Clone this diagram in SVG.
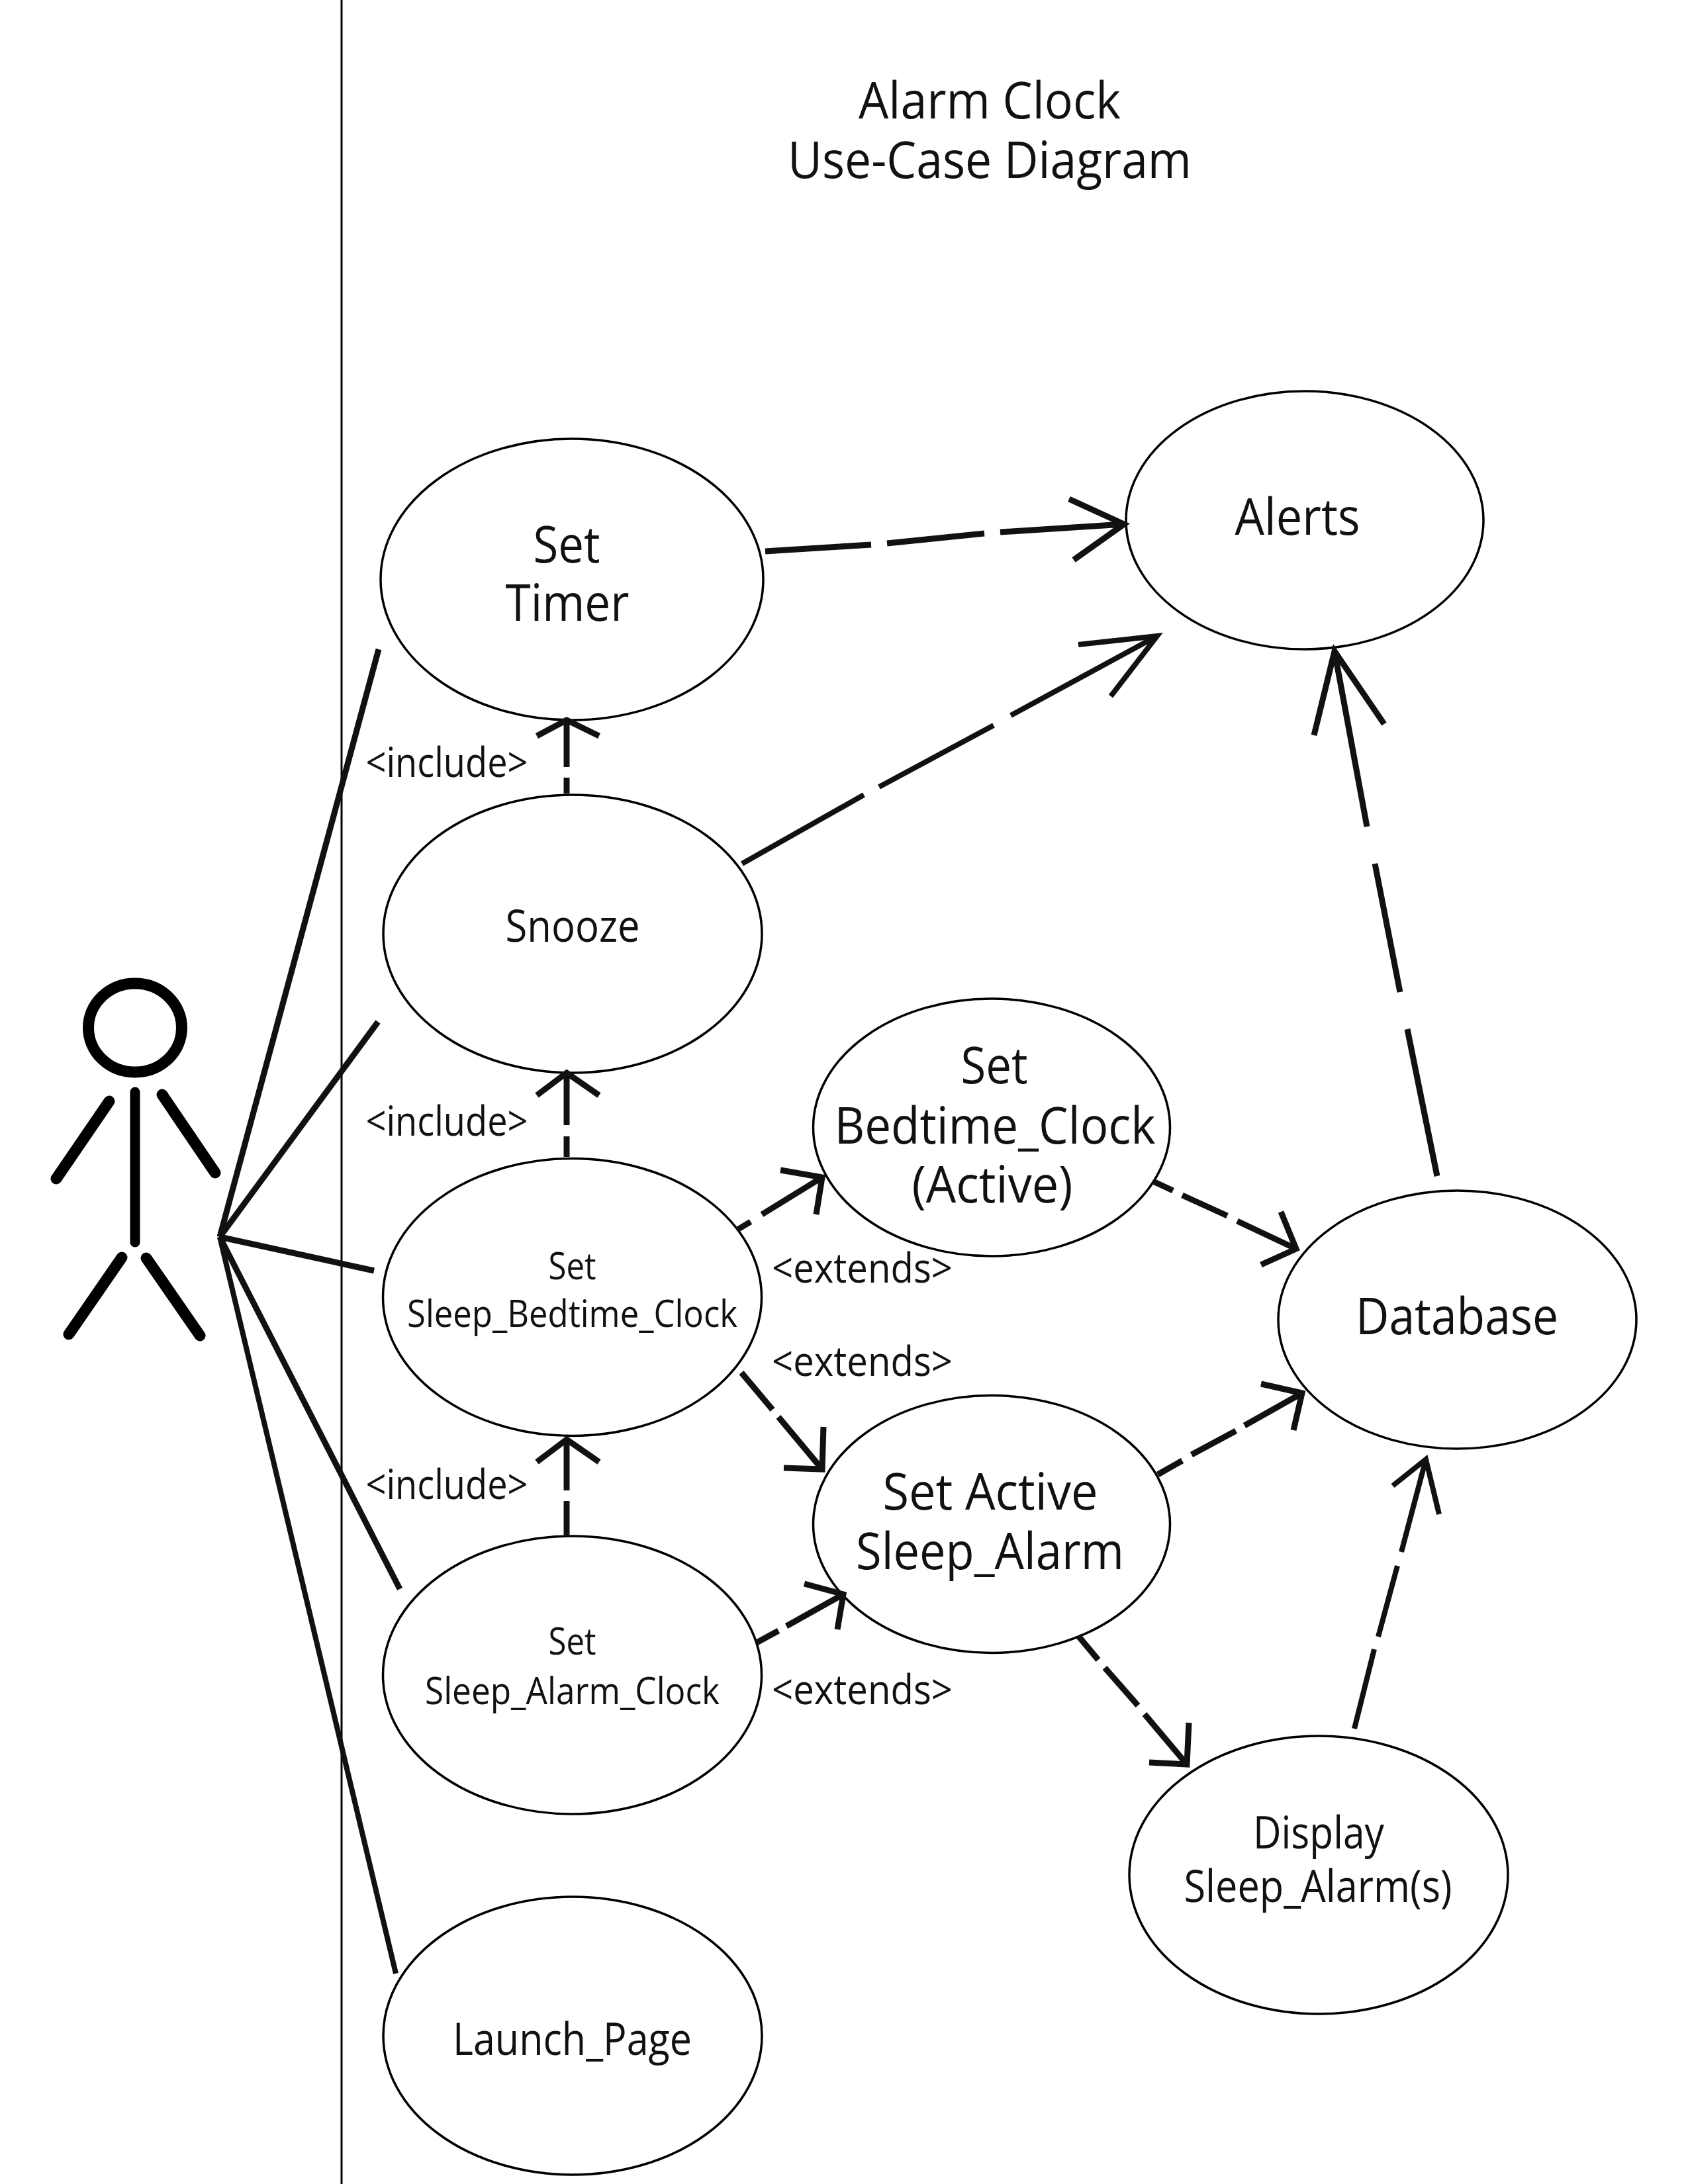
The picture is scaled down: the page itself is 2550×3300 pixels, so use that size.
<svg xmlns="http://www.w3.org/2000/svg" width="2550" height="3300" viewBox="0 0 2550 3300">
<style>
text{font-family:"Open Sans","Noto Sans","Liberation Sans",sans-serif;fill:#111;text-anchor:middle}
.big{font-size:76px}
.mid{font-size:67px}
.sm{font-size:57px}
.lab{font-size:62px}
ellipse{fill:#fff;stroke:#000;stroke-width:3.5}
.a{fill:none;stroke:#000;stroke-linecap:round}
.c{fill:none;stroke:#111;stroke-width:9}
.t{stroke-width:8}
</style>
<rect width="2550" height="3300" fill="#fff"/>
<g id="boundary"><line x1="516" y1="0" x2="516" y2="3300" stroke="#000" stroke-width="3"/></g>
<g id="title">
<text class="big" x="1495" y="179" textLength="396" lengthAdjust="spacingAndGlyphs">Alarm Clock</text>
<text class="big" x="1495" y="269" textLength="610" lengthAdjust="spacingAndGlyphs">Use-Case Diagram</text>
</g>
<g id="actor">
<ellipse cx="204" cy="1553" rx="70.5" ry="67" style="fill:none;stroke-width:17"/>
<path class="a" stroke-width="15" d="M204 1650V1877"/>
<path class="a" stroke-width="17" d="M165 1664L85 1781M245 1654L325 1772M184 1900L104 2016M221 1901L302 2018"/>
</g>
<g id="set-timer">
<ellipse cx="864" cy="875.5" rx="289" ry="212.5"/>
<text class="big" x="856" y="850" textLength="101" lengthAdjust="spacingAndGlyphs">Set</text>
<text class="big" x="857" y="938" textLength="187" lengthAdjust="spacingAndGlyphs">Timer</text>
</g>
<g id="alerts">
<ellipse cx="1971" cy="786" rx="270" ry="195"/>
<text class="big" x="1960" y="808" textLength="189" lengthAdjust="spacingAndGlyphs">Alerts</text>
</g>
<g id="snooze">
<ellipse cx="865" cy="1411" rx="286" ry="210"/>
<text class="mid" x="865" y="1423" textLength="203" lengthAdjust="spacingAndGlyphs">Snooze</text>
</g>
<g id="set-bedtime-clock">
<ellipse cx="1498" cy="1703.5" rx="269.5" ry="194.5"/>
<text class="big" x="1502" y="1637" textLength="101" lengthAdjust="spacingAndGlyphs">Set</text>
<text class="big" x="1503" y="1728" textLength="485" lengthAdjust="spacingAndGlyphs">Bedtime_Clock</text>
<text class="big" x="1499" y="1817" textLength="243" lengthAdjust="spacingAndGlyphs">(Active)</text>
</g>
<g id="set-sleep-bedtime-clock">
<ellipse cx="864.5" cy="1960" rx="286" ry="209.5"/>
<text class="sm" x="864.5" y="1933" textLength="72" lengthAdjust="spacingAndGlyphs">Set</text>
<text class="sm" x="864.5" y="2005" textLength="499" lengthAdjust="spacingAndGlyphs">Sleep_Bedtime_Clock</text>
</g>
<g id="database">
<ellipse cx="2201.5" cy="1994" rx="270.5" ry="195"/>
<text class="big" x="2201" y="2016" textLength="306" lengthAdjust="spacingAndGlyphs">Database</text>
</g>
<g id="set-active-sleep-alarm">
<ellipse cx="1498" cy="2303" rx="269.5" ry="194.5"/>
<text class="big" x="1496" y="2281" textLength="325" lengthAdjust="spacingAndGlyphs">Set Active</text>
<text class="big" x="1495.5" y="2371" textLength="405" lengthAdjust="spacingAndGlyphs">Sleep_Alarm</text>
</g>
<g id="set-sleep-alarm-clock">
<ellipse cx="864.5" cy="2531" rx="286" ry="210"/>
<text class="sm" x="864.5" y="2500" textLength="72" lengthAdjust="spacingAndGlyphs">Set</text>
<text class="sm" x="864.5" y="2575" textLength="445" lengthAdjust="spacingAndGlyphs">Sleep_Alarm_Clock</text>
</g>
<g id="display-sleep-alarms">
<ellipse cx="1992" cy="2833" rx="286" ry="210"/>
<text class="mid" x="1992" y="2793" textLength="198" lengthAdjust="spacingAndGlyphs">Display</text>
<text class="mid" x="1991" y="2874" textLength="405" lengthAdjust="spacingAndGlyphs">Sleep_Alarm(s)</text>
</g>
<g id="launch-page">
<ellipse cx="865" cy="3076" rx="286" ry="210"/>
<text class="mid" x="864.5" y="3105" textLength="361" lengthAdjust="spacingAndGlyphs">Launch_Page</text>
</g>
<g id="connector-labels">
<text class="lab" x="675" y="1174" textLength="245" lengthAdjust="spacingAndGlyphs">&lt;include&gt;</text>
<text class="lab" x="675" y="1716" textLength="245" lengthAdjust="spacingAndGlyphs">&lt;include&gt;</text>
<text class="lab" x="675" y="2265" textLength="245" lengthAdjust="spacingAndGlyphs">&lt;include&gt;</text>
<text class="lab" x="1302.5" y="1938" textLength="273" lengthAdjust="spacingAndGlyphs">&lt;extends&gt;</text>
<text class="lab" x="1302.5" y="2079" textLength="273" lengthAdjust="spacingAndGlyphs">&lt;extends&gt;</text>
<text class="lab" x="1302.5" y="2575" textLength="273" lengthAdjust="spacingAndGlyphs">&lt;extends&gt;</text>
</g>
<g id="connectors">
<path class="c" d="M332 1869L572 981"/>
<path class="c" d="M332 1869L571 1544"/>
<path class="c" d="M332 1869L565 1920"/>
<path class="c" d="M332 1869L604 2401"/>
<path class="c t" d="M332 1869L598 2982"/>
<path class="c" d="M1156 833L1316 823M1340 821L1487 806M1511 804L1698 792M1615 754L1698 792L1622 846"/>
<path class="c t" d="M1121 1305L1305 1201M1328 1189L1501 1096M1527 1081L1748 961M1629 974L1748 961L1678 1052"/>
<path class="c" d="M856 1199V1175M856 1159V1088M811 1112L856 1088L905 1112"/>
<path class="c" d="M856 1748V1717M856 1700V1621M811 1655L856 1621L905 1655"/>
<path class="c" d="M856 2321V2268M856 2252V2175M811 2209L856 2175L905 2209"/>
<path class="c" d="M1114 1858L1134 1846M1151 1835L1242 1779M1179 1768L1242 1779L1233 1835"/>
<path class="c" d="M1120 2074L1167 2130M1176 2141L1242 2220M1244 2156L1242 2220L1184 2218"/>
<path class="c" d="M1143 2482L1176 2464M1188 2457L1274 2409M1215 2393L1274 2409L1265 2462"/>
<path class="c" d="M1742 1785L1772 1799M1786 1806L1854 1837M1869 1845L1958 1887M1935 1831L1958 1887L1905 1911"/>
<path class="c" d="M1749 2228L1786 2207M1800 2198L1867 2162M1880 2154L1967 2105M1905 2091L1967 2105L1954 2161"/>
<path class="c" d="M1629 2472L1659 2508M1669 2520L1719 2577M1729 2590L1793 2666M1796 2603L1793 2666L1736 2663"/>
<path class="c t" d="M2046 2612L2076 2492M2082 2473L2111 2366M2117 2345L2154 2205M2104 2245L2154 2205L2174 2288"/>
<path class="c" d="M2171 1777L2126 1555M2115 1499L2077 1305M2065 1249L2016 984M1985 1111L2016 984L2091 1094"/>
</g>
</svg>
